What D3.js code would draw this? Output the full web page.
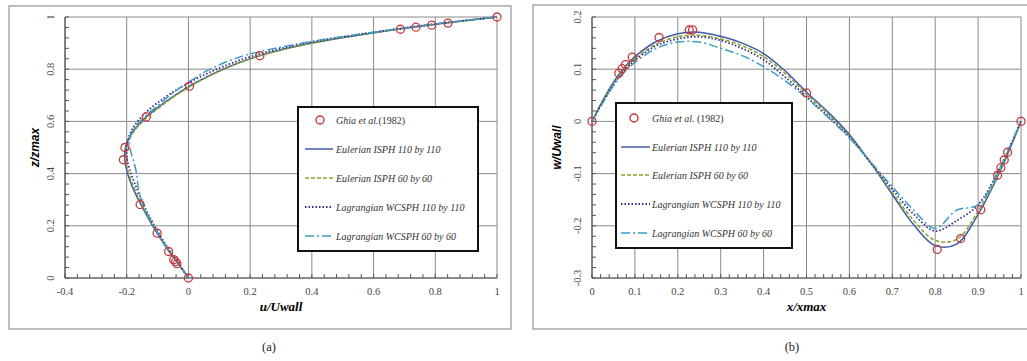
<!DOCTYPE html>
<html><head><meta charset="utf-8">
<script src="https://cdn.jsdelivr.net/npm/d3@7"></script>
<style>
body{margin:0;background:#fff}
.serif{font-family:"Liberation Serif","Times New Roman",serif}
.sans{font-family:"Liberation Sans",Arial,sans-serif}
</style>
</head><body>
<svg id="c" width="1027" height="361"></svg>
<script>
// ---- data ----
const seriesNames = ["Eulerian ISPH 110 by 110","Eulerian ISPH 60 by 60","Lagrangian WCSPH 110 by 110","Lagrangian WCSPH 60 by 60"];
const ghiaLabel = "Ghia et al.(1982)";
const ghiaLabelB = "Ghia et al. (1982)";
// panel (a): u/Uwall vs z/zmax
const ghiaZ = [1.0,0.9766,0.9688,0.9609,0.9531,0.8516,0.7344,0.6172,0.5,0.4531,0.2813,0.1719,0.1016,0.0703,0.0625,0.0547,0.0];
const ghiaU = [1.0,0.84123,0.78871,0.73722,0.68717,0.23151,0.00332,-0.13641,-0.20581,-0.2109,-0.15662,-0.1015,-0.06434,-0.04775,-0.04192,-0.03717,0.0];
const zA = [0,0.05,0.1,0.15,0.2,0.25,0.3,0.35,0.4,0.45,0.5,0.55,0.6,0.65,0.7,0.75,0.8,0.85,0.9,0.95,0.975,1];
const uEul110 = [0,-0.03,-0.062,-0.09,-0.116,-0.14,-0.162,-0.182,-0.197,-0.206,-0.204,-0.186,-0.152,-0.103,-0.044,0.026,0.112,0.226,0.4,0.66,0.82,1];
const uEul60  = [0,-0.03,-0.06,-0.088,-0.113,-0.137,-0.158,-0.178,-0.193,-0.203,-0.201,-0.183,-0.148,-0.098,-0.04,0.029,0.115,0.228,0.4,0.66,0.82,1];
const uLag110 = [0,-0.028,-0.058,-0.085,-0.11,-0.133,-0.152,-0.17,-0.186,-0.198,-0.2,-0.19,-0.165,-0.123,-0.066,0.004,0.092,0.206,0.38,0.65,0.81,1];
const uLag60  = [0,-0.03,-0.06,-0.088,-0.112,-0.135,-0.152,-0.163,-0.168,-0.178,-0.19,-0.188,-0.158,-0.11,-0.06,0.0,0.07,0.175,0.37,0.65,0.81,1];
// panel (b): x/xmax vs w/Uwall
const ghiaX = [1.0,0.9688,0.9609,0.9531,0.9453,0.9063,0.8594,0.8047,0.5,0.2344,0.2266,0.1563,0.0938,0.0781,0.0703,0.0625,0.0];
const ghiaW = [0.0,-0.05906,-0.07391,-0.08864,-0.10313,-0.16914,-0.22445,-0.24533,0.05454,0.17527,0.17507,0.16077,0.12317,0.1089,0.10091,0.09233,0.0];
const xB = [0,0.025,0.05,0.075,0.1,0.15,0.2,0.25,0.3,0.35,0.4,0.45,0.5,0.55,0.6,0.65,0.7,0.75,0.8,0.85,0.9,0.95,1];
const wEul110 = [0,0.04,0.075,0.103,0.124,0.153,0.168,0.171,0.163,0.15,0.13,0.097,0.056,0.018,-0.025,-0.08,-0.14,-0.198,-0.238,-0.235,-0.178,-0.098,0];
const wEul60  = [0,0.039,0.073,0.1,0.12,0.148,0.162,0.165,0.158,0.145,0.124,0.092,0.052,0.014,-0.028,-0.08,-0.136,-0.19,-0.228,-0.226,-0.172,-0.095,0];
const wLag110 = [0,0.037,0.07,0.097,0.117,0.145,0.158,0.162,0.155,0.14,0.118,0.085,0.047,0.01,-0.03,-0.08,-0.13,-0.178,-0.21,-0.19,-0.16,-0.09,0];
const wLag60  = [0,0.035,0.068,0.094,0.113,0.14,0.152,0.152,0.14,0.126,0.105,0.078,0.045,0.008,-0.032,-0.078,-0.125,-0.17,-0.205,-0.17,-0.16,-0.09,0];
const ticksAX = [-0.4,-0.2,0,0.2,0.4,0.6,0.8,1];
const ticksAY = [0,0.2,0.4,0.6,0.8,1];
const ticksBX = [0,0.1,0.2,0.3,0.4,0.5,0.6,0.7,0.8,0.9,1];
const ticksBY = [-0.3,-0.2,-0.1,0,0.1,0.2];

// ---- styles ----
const styles = [
  {color:"#3f5aa8", dash:null, w:1.5},
  {color:"#86a52c", dash:"4,2", w:1.5},
  {color:"#3a2c8e", dash:"1.5,2", w:1.8},
  {color:"#3b9cc6", dash:"9,3,2,3", w:1.5}
];
const red = "#c8373a";
const fmt = d => String(+d.toFixed(2));
const svg = d3.select("#c");

function panel(o){
  const g = svg.append("g");
  g.append("rect").attr("x",o.box[0]).attr("y",o.box[1]).attr("width",o.box[2]).attr("height",o.box[3])
   .attr("fill","none").attr("stroke","#a8a8a8").attr("stroke-width",1.5);
  const x=o.x, y=o.y;
  const [x0,x1]=x.range(), [y0,y1]=y.range();
  g.selectAll(null).data(o.tx).join("line").attr("x1",d=>x(d)).attr("x2",d=>x(d)).attr("y1",y0).attr("y2",y1)
   .attr("stroke","#8a8a8a").attr("stroke-width",1);
  g.selectAll(null).data(o.ty).join("line").attr("y1",d=>y(d)).attr("y2",d=>y(d)).attr("x1",x0).attr("x2",x1)
   .attr("stroke","#8a8a8a").attr("stroke-width",1);
  g.append("line").attr("x1",x0).attr("x2",x1).attr("y1",y0).attr("y2",y0).attr("stroke","#555").attr("stroke-width",1.2);
  g.append("line").attr("x1",x0).attr("x2",x0).attr("y1",y0).attr("y2",y1).attr("stroke","#555").attr("stroke-width",1.2);
  g.selectAll(null).data(o.mx).join("line").attr("x1",d=>x(d)).attr("x2",d=>x(d)).attr("y1",y0).attr("y2",y0-4)
   .attr("stroke","#555").attr("stroke-width",1);
  g.selectAll(null).data(o.my).join("line").attr("y1",d=>y(d)).attr("y2",d=>y(d)).attr("x1",x0).attr("x2",x0+4)
   .attr("stroke","#555").attr("stroke-width",1);
  g.selectAll(null).data(o.tx).join("text").attr("class","serif").attr("x",d=>x(d)).attr("y",y0+17).attr("text-anchor","middle")
   .attr("font-size",10.5).attr("fill","#444").text(fmt);
  g.selectAll(null).data(o.ty).join("text").attr("class","serif").attr("transform",d=>`translate(${x0-11},${y(d)}) rotate(-90)`)
   .attr("text-anchor","middle").attr("font-size",10.5).attr("fill","#444").text(fmt);
  g.append("text").attr("class","serif").attr("x",(x0+x1)/2).attr("y",y0+33).attr("text-anchor","middle")
   .attr("font-style","italic").attr("font-weight","bold").attr("font-size",13).text(o.xt);
  g.append("text").attr("class","sans").attr("transform",`translate(${o.ytx},${(y0+y1)/2}) rotate(-90)`).attr("text-anchor","middle")
   .attr("font-style","italic").attr("font-weight","bold").attr("font-size",12).text(o.yt);
  g.append("text").attr("class","serif").attr("x",o.cap[0]).attr("y",o.cap[1]).attr("text-anchor","middle")
   .attr("font-size",12.5).attr("fill","#222").text(o.cap[2]);
  o.series.forEach((s,i)=>{
    const st=styles[i];
    const line=d3.line().x(d=>x(d[0])).y(d=>y(d[1])).curve(d3.curveCatmullRom.alpha(0.5));
    g.append("path").attr("d",line(s)).attr("fill","none").attr("stroke",st.color).attr("stroke-width",st.w)
     .attr("stroke-dasharray",st.dash);
  });
  g.selectAll(null).data(o.ghia).join("circle").attr("cx",d=>x(d[0])).attr("cy",d=>y(d[1])).attr("r",4)
   .attr("fill","none").attr("stroke",red).attr("stroke-width",1.3);
  const L=o.leg;
  g.append("rect").attr("x",L.x).attr("y",L.y).attr("width",L.w).attr("height",L.h).attr("fill","#fff")
   .attr("stroke","#111").attr("stroke-width",2);
  g.append("circle").attr("cx",L.cx).attr("cy",L.rows[0]).attr("r",4).attr("fill","none").attr("stroke",red).attr("stroke-width",1.4);
  const lbl=[o.gl].concat(seriesNames);
  lbl.forEach((t,i)=>{
    const tx=g.append("text").attr("class","serif").attr("x",L.tx).attr("y",L.rows[i]+3.5)
     .attr("font-size",10).attr("fill","#333");
    if(i===0){
      const m=t.match(/^(.*?)(\s?\(\d+\))$/);
      tx.append("tspan").attr("font-style","italic").text(m[1]);
      tx.append("tspan").text(m[2]);
    } else tx.attr("font-style","italic").text(t);
    if(i>0){
      const st=styles[i-1];
      g.append("line").attr("x1",L.lx0).attr("x2",L.lx1).attr("y1",L.rows[i]).attr("y2",L.rows[i])
       .attr("stroke",st.color).attr("stroke-width",st.w).attr("stroke-dasharray",st.dash);
    }
  });
}

const zip=(a,b)=>a.map((v,i)=>[v,b[i]]);
panel({
  box:[9,6,502,323],
  x:d3.scaleLinear([-0.4,1],[65,497]), y:d3.scaleLinear([0,1],[278,17]),
  tx:ticksAX, ty:ticksAY,
  mx:d3.range(0,36).map(i=>-0.4+i*0.04), my:d3.range(0,26).map(i=>i*0.04),
  xt:"u/Uwall", yt:"z/zmax", ytx:39, cap:[269,351,"(a)"],
  series:[zip(uEul110,zA),zip(uEul60,zA),zip(uLag110,zA),zip(uLag60,zA)],
  ghia:zip(ghiaU,ghiaZ), gl:ghiaLabel,
  leg:{x:298,y:107,w:180,h:144,rows:[120,149,178,207,236],cx:320,tx:336,lx0:305,lx1:333}
});
panel({
  box:[533,5,500,324],
  x:d3.scaleLinear([0,1],[592,1021]), y:d3.scaleLinear([-0.3,0.2],[278,17]),
  tx:ticksBX, ty:ticksBY,
  mx:d3.range(0,51).map(i=>i*0.02), my:d3.range(0,26).map(i=>-0.3+i*0.02),
  xt:"x/xmax", yt:"w/Uwall", ytx:561, cap:[792,351,"(b)"],
  series:[zip(xB,wEul110),zip(xB,wEul60),zip(xB,wLag110),zip(xB,wLag60)],
  ghia:zip(ghiaX,ghiaW), gl:ghiaLabelB,
  leg:{x:616,y:103,w:176,h:145,rows:[118,147,175,204,233],cx:634,tx:652,lx0:621,lx1:650}
});
</script>
</body></html>
